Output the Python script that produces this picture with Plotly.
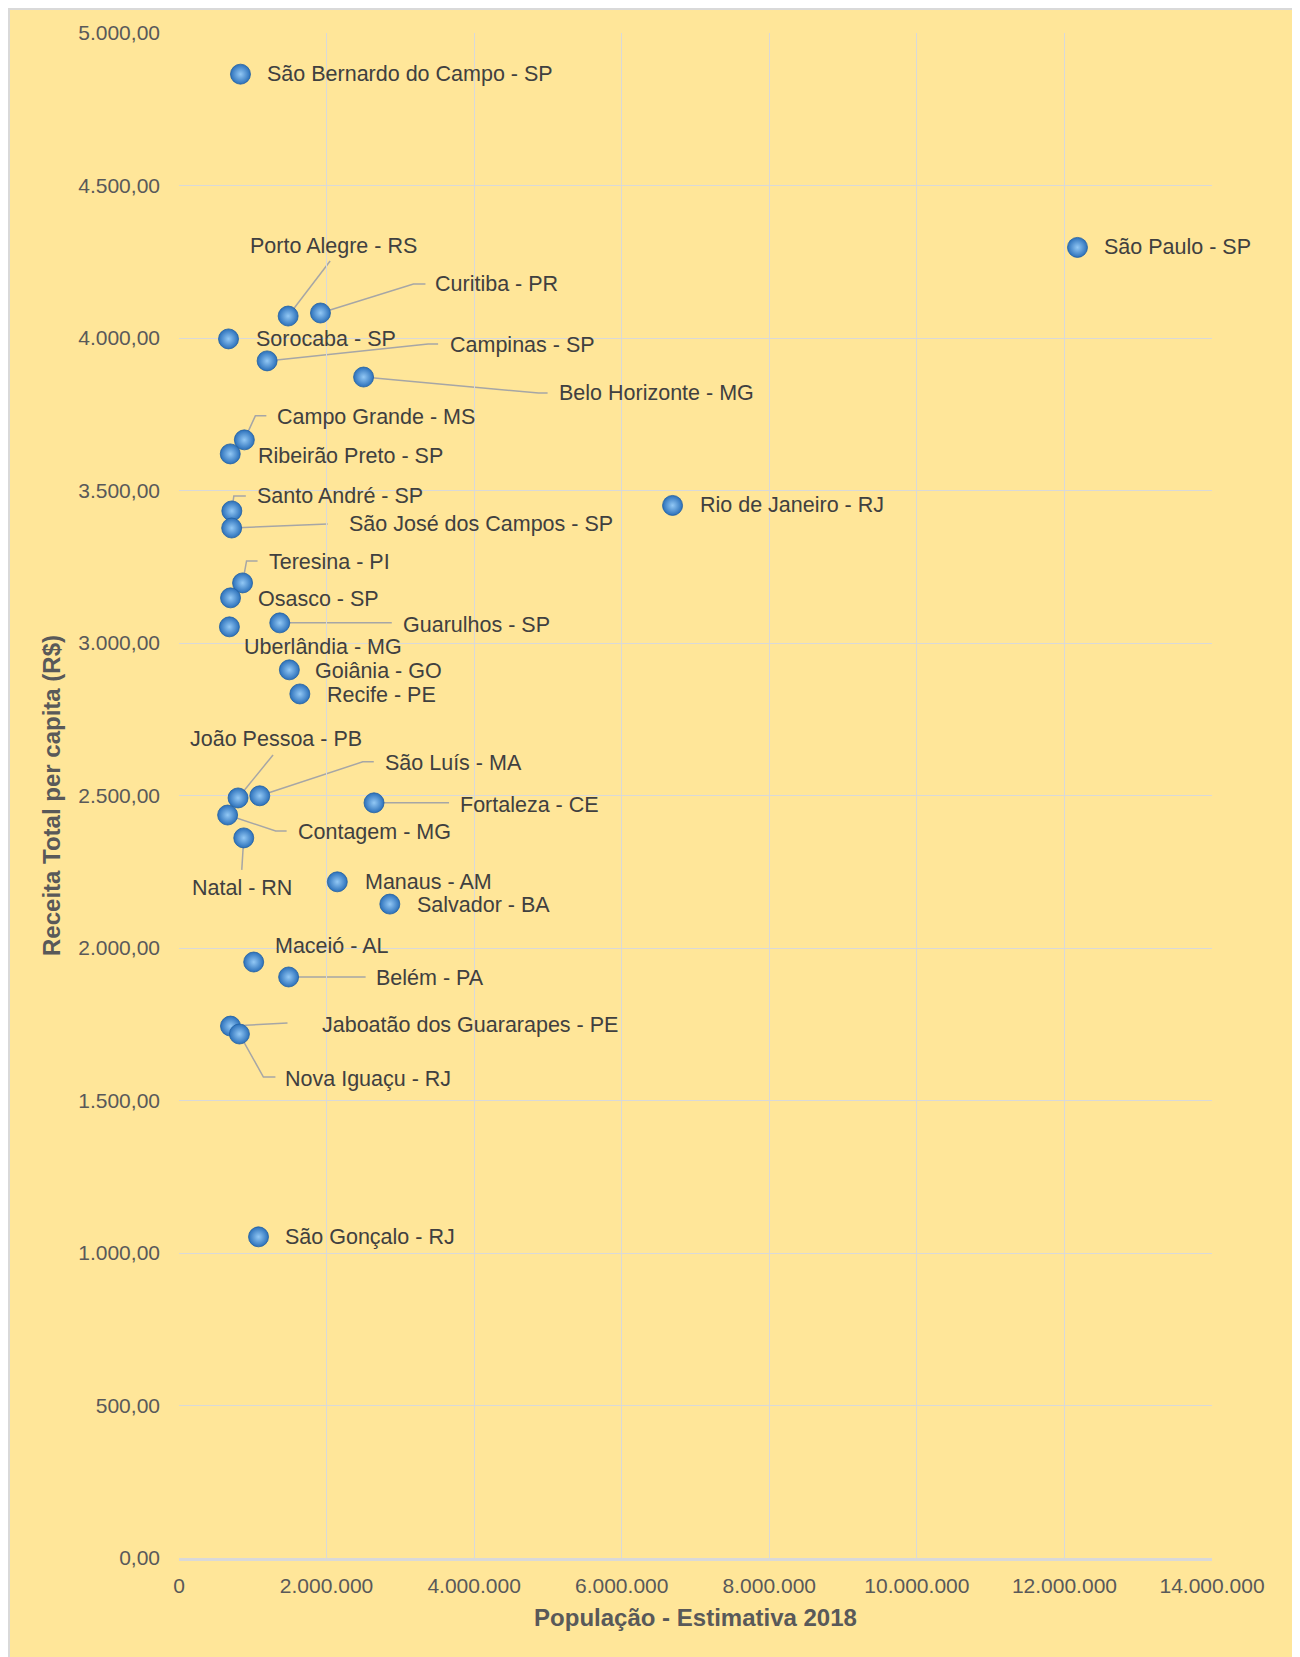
import plotly.graph_objects as go

# ---------------- data ----------------
cidades = [
    "São Bernardo do Campo - SP", "São Paulo - SP", "Porto Alegre - RS", "Curitiba - PR",
    "Sorocaba - SP", "Campinas - SP", "Belo Horizonte - MG", "Campo Grande - MS",
    "Ribeirão Preto - SP", "Santo André - SP", "São José dos Campos - SP", "Teresina - PI",
    "Osasco - SP", "Guarulhos - SP", "Uberlândia - MG", "Goiânia - GO", "Recife - PE",
    "João Pessoa - PB", "São Luís - MA", "Fortaleza - CE", "Contagem - MG", "Natal - RN",
    "Manaus - AM", "Salvador - BA", "Maceió - AL", "Belém - PA",
    "Jaboatão dos Guararapes - PE", "Nova Iguaçu - RJ", "Rio de Janeiro - RJ", "São Gonçalo - RJ",
]
populacao = [
    833240, 12176866, 1479101, 1917185,
    671186, 1194094, 2501576, 885711,
    694534, 716109, 713943, 861442,
    698418, 1365899, 683247, 1495705, 1637834,
    800323, 1094667, 2643247, 659070, 877640,
    2145444, 2857329, 1012382, 1485732,
    697636, 818875, 6688927, 1077687,
]
receita = [
    4865, 4297, 4072, 4082,
    3997, 3925, 3872, 3666,
    3620, 3433, 3377, 3197,
    3148, 3066, 3053, 2912, 2833,
    2492, 2499, 2476, 2436, 2361,
    2217, 2144, 1954, 1905,
    1744, 1718, 3451, 1053,
]

titulo = "Receita Total per capita<br>das principais cidades x população, 2018, R$"
titulo_x = "População - Estimativa 2018"
titulo_y = "Receita Total per capita (R$)"

# label placement (pixel offsets from the point) and leader-line paths
label_pos = {
    "São Bernardo do Campo - SP": (25, 0, "left", None),
    "São Paulo - SP": (25, 0, "left", None),
    "Porto Alegre - RS": (-40, 70, "left", "M0,0 L42,55"),
    "Curitiba - PR": (113, 29, "left", "M0,0 L93,29 L105,29"),
    "Sorocaba - SP": (25, 0, "left", None),
    "Campinas - SP": (181, 16, "left", "M0,0 L161,17 L171,17"),
    "Belo Horizonte - MG": (193, -16, "left", "M0,0 L175,-16 L184,-16"),
    "Campo Grande - MS": (31, 23, "left", "M0,0 L11,24 L22,24"),
    "Ribeirão Preto - SP": (26, -2, "left", None),
    "Santo André - SP": (23, 15, "left", "M0,0 L2,15 L14,15"),
    "São José dos Campos - SP": (115, 4, "left", "M0,0 L96,4"),
    "Teresina - PI": (24, 21, "left", "M0,0 L4,22 L15,22"),
    "Osasco - SP": (25, -1, "left", None),
    "Guarulhos - SP": (121, -2, "left", "M0,0 L112,0"),
    "Uberlândia - MG": (13, -20, "left", None),
    "Goiânia - GO": (24, -1, "left", None),
    "Recife - PE": (25, -1, "left", None),
    "João Pessoa - PB": (-50, 59, "left", "M0,0 L35,43"),
    "São Luís - MA": (123, 33, "left", "M0,0 L103,34 L114,34"),
    "Fortaleza - CE": (84, -2, "left", "M0,0 L75,0"),
    "Contagem - MG": (68, -17, "left", "M0,0 L48,-16 L59,-16"),
    "Natal - RN": (-2, -50, "center", "M0,0 L-2,-32"),
    "Manaus - AM": (26, 0, "left", None),
    "Salvador - BA": (25, -1, "left", None),
    "Maceió - AL": (19, 16, "left", None),
    "Belém - PA": (85, -1, "left", "M0,0 L77,0"),
    "Jaboatão dos Guararapes - PE": (90, 1, "left", "M0,0 L57,3"),
    "Nova Iguaçu - RJ": (44, -45, "left", "M0,0 L24,-43 L36,-43"),
    "Rio de Janeiro - RJ": (25, 0, "left", None),
    "São Gonçalo - RJ": (24, 0, "left", None),
}

FONT = "Liberation Sans, Arial, sans-serif"
BG = "#FFE699"
GRID = "#D9D9D9"

fig = go.Figure()
fig.add_trace(go.Scatter(
    x=populacao, y=receita, mode="markers", text=cidades,
    marker=dict(size=20, color="#2B70BA",
                gradient=dict(type="radial", color="#92C8F5"),
                line=dict(width=0.8, color="#2160A3")),
    hovertemplate="%{text}<extra></extra>",
    showlegend=False,
))

annotations = []
shapes = []

# figure geometry (the page adds an 8px body margin)
W, H = 1292, 1649
L, T = 171, 25
R = W - 1204
B = H - 1550
pw, ph = W - L - R, H - T - B

# outer chart area box
shapes.append(dict(type="rect", xref="paper", yref="paper",
                   x0=(1 - L) / pw, x1=(1287 - L) / pw,
                   y0=-(B + 20) / ph, y1=1 + (T - 1) / ph,
                   fillcolor=BG, line=dict(color=GRID, width=2), layer="below"))

for c, xv, yv in zip(cidades, populacao, receita):
    dx, dy, anc, path = label_pos[c]
    annotations.append(dict(x=xv, y=yv, xref="x", yref="y", text=c, showarrow=False,
                            xanchor=anc, yanchor="middle", xshift=dx, yshift=dy,
                            font=dict(family=FONT, size=21.5, color="#404040")))
    if path:
        shapes.append(dict(type="path", xref="x", yref="y", xsizemode="pixel", ysizemode="pixel",
                           xanchor=xv, yanchor=yv, path=path,
                           line=dict(color="#A6A6A6", width=1.5), layer="below"))

annotations.append(dict(xref="paper", yref="paper", x=(655 - L) / pw, y=1 + (T - 2) / ph,
                        text=titulo, showarrow=False, xanchor="center", yanchor="bottom",
                        font=dict(family=FONT, size=32, color="#000000", weight="bold")))

fig.update_layout(
    width=W, height=H,
    margin=dict(l=L, r=R, t=T, b=B),
    paper_bgcolor="white", plot_bgcolor="rgba(0,0,0,0)",
    separators=",.",
    font=dict(family=FONT, color="#595959"),
    annotations=annotations, shapes=shapes,
    xaxis=dict(range=[0, 14000000], dtick=2000000, tickformat=",d",
               showgrid=True, gridcolor=GRID, gridwidth=1.3, zeroline=False,
               showline=True, linecolor=GRID, linewidth=2.5,
               ticks="", ticklabelstandoff=7,
               tickfont=dict(family=FONT, size=21, color="#595959"),
               title=dict(text=titulo_x, standoff=14,
                          font=dict(family=FONT, size=24, color="#595959", weight="bold"))),
    yaxis=dict(range=[0, 5000], dtick=500, tickformat=",.2f",
               showgrid=True, gridcolor=GRID, gridwidth=1.3, zeroline=False,
               showline=False, ticks="", ticklabelstandoff=18,
               tickfont=dict(family=FONT, size=21, color="#595959"),
               title=dict(text=titulo_y, standoff=10,
                          font=dict(family=FONT, size=24, color="#595959", weight="bold"))),
)

fig.write_html("out.html")
